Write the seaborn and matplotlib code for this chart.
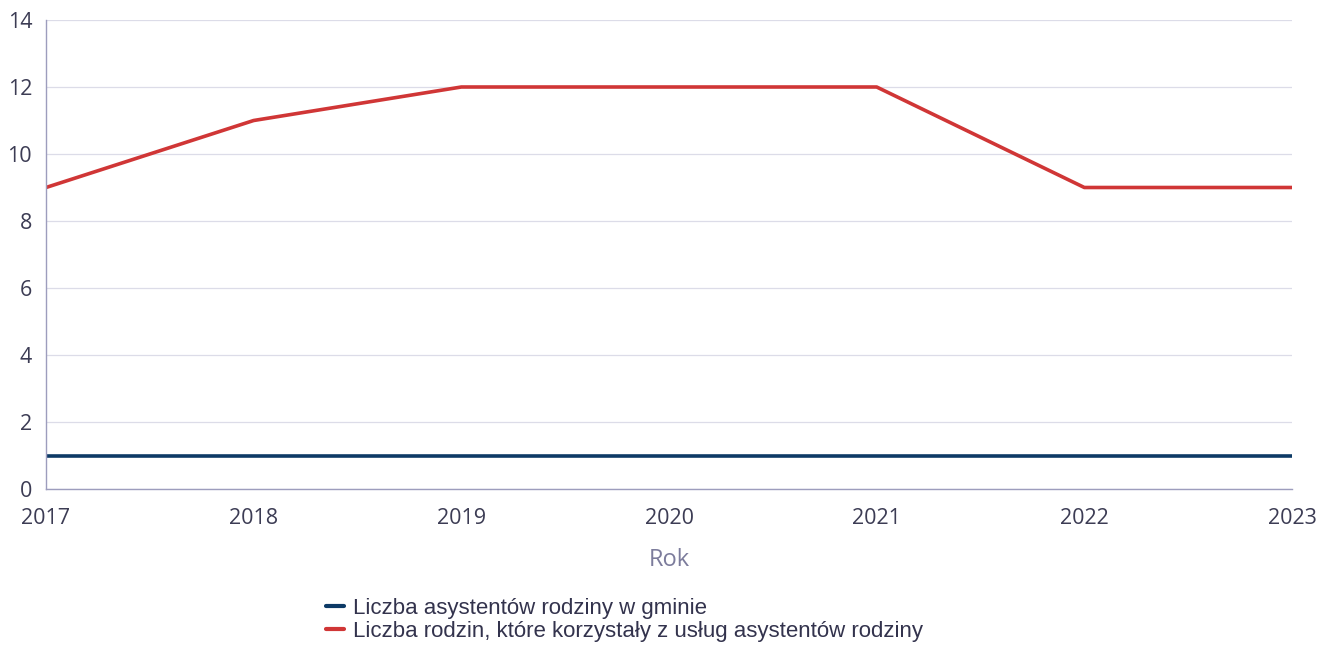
import matplotlib
matplotlib.use('Agg')
import matplotlib.pyplot as plt
import seaborn as sns
import pandas as pd

years = [2017, 2018, 2019, 2020, 2021, 2022, 2023]
asystenci = [1, 1, 1, 1, 1, 1, 1]
rodziny = [9, 11, 12, 12, 12, 9, 9]
series_names = ['Liczba asystentów rodziny w gminie',
                'Liczba rodzin, które korzystały z usług asystentów rodziny']

df = pd.DataFrame({'Rok': years * 2,
                   'Wartosc': asystenci + rodziny,
                   'Seria': [series_names[0]] * len(years) + [series_names[1]] * len(years)})

sns.set_style('white')
plt.rcParams['font.family'] = ['Open Sans', 'DejaVu Sans']

fig = plt.figure(figsize=(13.26, 6.45), dpi=100)
ax = fig.add_axes([46 / 1326, 1 - 489 / 645, (1292 - 46) / 1326, (489 - 20) / 645])

sns.lineplot(data=df, x='Rok', y='Wartosc', hue='Seria',
             palette=['#0d3a66', '#d03636'], linewidth=2.6, ax=ax, legend=False)

ax.set_xlim(2017, 2023)
ax.set_ylim(0, 14)
ax.set_yticks(range(0, 15, 2))
ax.set_xticks(years)
ax.grid(axis='y', color='#dcdce8', linewidth=0.9)
ax.set_axisbelow(True)
for s in ['top', 'right']:
    ax.spines[s].set_visible(False)
for s in ['left', 'bottom']:
    ax.spines[s].set_color('#9d9dbd')
    ax.spines[s].set_linewidth(1)
ax.tick_params(axis='both', length=0, labelsize=15.5, colors='#3c3c54')
ax.tick_params(axis='x', pad=14)
ax.tick_params(axis='y', pad=10)
ax.set_ylabel('')
ax.set_xlabel('Rok', fontsize=17, color='#7c7c9c', labelpad=13)

handles = [plt.Line2D([], [], color='#0d3a66', linewidth=3),
           plt.Line2D([], [], color='#d03636', linewidth=3)]
fig.legend(handles, series_names, loc='upper left', bbox_to_anchor=(306 / 1326, 1 - 578 / 645),
           frameon=False, handlelength=0.8, handletextpad=0.4, labelspacing=0.1,
           prop={'family': 'Liberation Sans', 'size': 16}, labelcolor='#33334d')

fig.savefig('out.png', dpi=100)
